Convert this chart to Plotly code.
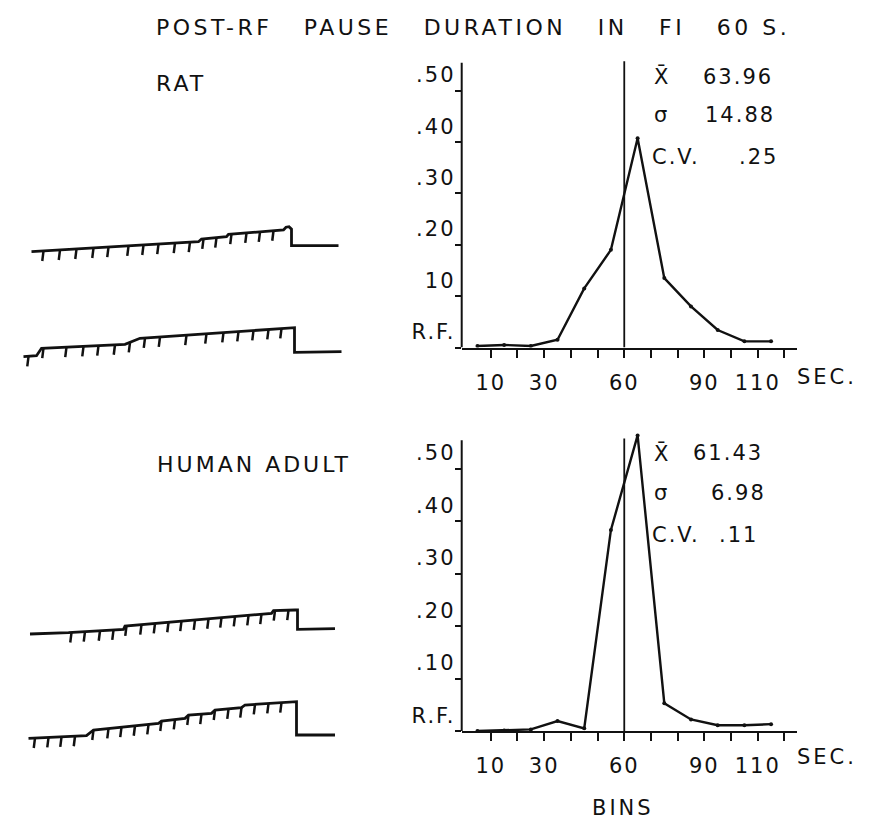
import numpy as np
import plotly.graph_objects as go

W, H = 875, 822
FONT = "DejaVu Sans"
INK = "#111111"

# ---------------- data: relative-frequency histograms ----------------
bins = [5, 15, 25, 35, 45, 55, 65, 75, 85, 95, 105, 115]
rat_rf = [0.003, 0.005, 0.003, 0.015, 0.115, 0.19, 0.407, 0.135, 0.08, 0.034, 0.012, 0.012]
human_rf = [0.0, 0.001, 0.003, 0.019, 0.005, 0.383, 0.563, 0.053, 0.022, 0.011, 0.011, 0.013]
fi_value = 60
axis_top = 0.554

x_tick_vals = [10, 20, 30, 40, 50, 60, 70, 80, 90, 100, 110, 120]
x_tick_text = ["10", "", "30", "", "", "60", "", "", "90", "", "110", ""]
y_tick_vals = [0, 0.1, 0.2, 0.3, 0.4, 0.5]
rat_y_text = ["R.F.", "10", ".20", ".30", ".40", ".50"]
human_y_text = ["R.F.", ".10", ".20", ".30", ".40", ".50"]

stat_names = ["X\u0304", "σ", "C.V."]
rat_stats = ["63.96", "14.88", ".25"]
human_stats = ["61.43", "6.98", ".11"]

# ---------------- data: cumulative records (time s, pen height) ----------------
rec1_t = [6.3, 39.7, 40.3, 45.3, 45.7, 56.7, 57.2, 57.8, 58.3, 58.3, 67.7]
rec1_h = [0, 10, 12.7, 15, 17.4, 21.7, 24.5, 25, 22.5, 6, 6]
rec1_pips = [8.7, 12, 15.3, 18.7, 21.7, 25.7, 28.7, 31.7, 35, 38, 40.7, 43.3, 46.3, 49.3, 52, 54.7]

rec2_t = [4.7, 7.3, 8.3, 25, 28, 58.3, 58.9, 58.9, 68.3]
rec2_h = [0, 1, 8.4, 12.4, 18.4, 29, 29, 4.4, 5]
rec2_pips = [5.7, 8.7, 13.3, 16.7, 19.7, 23, 26, 29, 32, 37.3, 41.3, 44.7, 47.7, 50.7, 53.7, 56.3]

rec3_t = [6, 13.7, 24.7, 25, 54.3, 54.7, 59, 59.5, 59.5, 67]
rec3_h = [0, 1.3, 4.7, 8, 20.7, 23.3, 24, 24, 4.7, 5.3]
rec3_pips = [14.3, 17, 20, 22.7, 25.3, 28.3, 31, 33.7, 36.3, 39, 41.7, 44.3, 47, 49.7, 52.3, 55, 57.7]

rec4_t = [5.7, 17.3, 18.7, 31.7, 32.3, 37, 37.7, 42.3, 43, 48.3, 49, 59, 59.3, 59.3, 67]
rec4_h = [0, 2.6, 8.3, 15, 17.3, 20, 23.3, 25, 28.3, 30.6, 33.3, 36.6, 36.6, 3.3, 3.3]
rec4_pips = [7, 9.7, 12.3, 15, 18.7, 21.7, 24.3, 27, 29.7, 32.3, 35, 37.7, 40.3, 43, 45.7, 48.3, 51, 53.7, 56.3]


def ls(s, sp=3):
    return f'<span style="letter-spacing:{sp}px">{s}</span>'


def px_x(px):
    return px / W


def px_y(py):
    return 1 - py / H


fig = go.Figure()

# histograms
for xa, ya, vals in [("x", "y", rat_rf), ("x2", "y2", human_rf)]:
    fig.add_trace(go.Scatter(x=bins, y=vals, xaxis=xa, yaxis=ya, mode="lines+markers",
                             line=dict(color=INK, width=2.4),
                             marker=dict(color=INK, size=4), hoverinfo="skip"))

# cumulative records
records = [(rec1_t, rec1_h, rec1_pips, "y3"), (rec2_t, rec2_h, rec2_pips, "y4"),
           (rec3_t, rec3_h, rec3_pips, "y5"), (rec4_t, rec4_h, rec4_pips, "y6")]
pip_len = 10
for t, h, pips, ya in records:
    fig.add_trace(go.Scatter(x=t, y=h, xaxis="x3", yaxis=ya, mode="lines",
                             line=dict(color=INK, width=2.8), hoverinfo="skip"))
    px_, py_ = [], []
    for p in pips:
        hv = float(np.interp(p, t[:-3], h[:-3]))
        px_ += [p, p - 0.25, None]
        py_ += [hv, hv - pip_len, None]
    fig.add_trace(go.Scatter(x=px_, y=py_, xaxis="x3", yaxis=ya, mode="lines",
                             line=dict(color=INK, width=2.5), hoverinfo="skip"))

xdom = [461.7 / W, 796.7 / W]
xrange_ = [-0.9, 124.6]
top_dom = [px_y(347.5), px_y(39.1)]
bot_dom = [px_y(731), px_y(416)]

common_x = dict(range=xrange_, domain=xdom, showline=True, linewidth=2, linecolor=INK,
                ticks="outside", ticklen=8, tickwidth=2, tickcolor=INK,
                tickvals=x_tick_vals, ticktext=[ls(s, 2) for s in x_tick_text],
                tickfont=dict(family=FONT, size=21, color=INK), ticklabelstandoff=7,
                showgrid=False, zeroline=False, fixedrange=True)
common_y = dict(range=[0, 0.6], showline=False, ticks="outside", ticklen=6, tickwidth=2,
                tickcolor=INK, tickvals=y_tick_vals, ticklabelposition="outside top",
                tickfont=dict(family=FONT, size=21, color=INK), ticklabelstandoff=1,
                showgrid=False, zeroline=False, fixedrange=True)

fig.update_layout(
    xaxis=dict(anchor="y", **common_x),
    yaxis=dict(anchor="x", domain=top_dom, ticktext=[ls(s, 2) for s in rat_y_text], **common_y),
    xaxis2=dict(anchor="y2", **common_x),
    yaxis2=dict(anchor="x2", domain=bot_dom, ticktext=[ls(s, 2) for s in human_y_text], **common_y),
    xaxis3=dict(anchor="y3", domain=[0, 0.4], range=[0, 70], visible=False, fixedrange=True),
)
baselines = [251.7, 356.7, 634, 738.3]
for i, b in enumerate(baselines):
    fig.layout[f"yaxis{i + 3}"] = dict(anchor="x3", domain=[px_y(b + 15), px_y(b - 40)],
                                        range=[-15, 40], visible=False, fixedrange=True)

# y-axis lines and FI reference lines
for xr, yr in [("x", "y"), ("x2", "y2")]:
    fig.add_shape(type="line", xref=f"{xr} domain", yref=yr, x0=0, x1=0, y0=0, y1=axis_top,
                  line=dict(color=INK, width=2))
    fig.add_shape(type="line", xref=xr, yref=yr, x0=fi_value, x1=fi_value, y0=0, y1=axis_top + 0.003,
                  line=dict(color=INK, width=1.8))

ann = []


def text(s, px, py, size=21, xanchor="center", sp=3):
    ann.append(dict(text=ls(s, sp), x=px_x(px), y=px_y(py), xref="paper", yref="paper",
                    xanchor=xanchor, yanchor="middle", showarrow=False,
                    font=dict(family=FONT, size=size, color=INK)))


nb = "\u00a0"
title = f"POST-RF{nb*3}PAUSE{nb*3}DURATION{nb*3}IN{nb*3}FI{nb*3}60 S."
text(title, 472.5, 28, size=22, sp=3.5)
text("RAT", 181, 84, size=22, sp=3)
text("HUMAN ADULT", 254, 464, size=22, sp=3)
text("SEC.", 827, 377, size=21, sp=3)
text("SEC.", 827, 757, size=21, sp=3)
text("BINS", 623, 808, size=21, sp=3)

# statistics
for stats, ys, rights in [(rat_stats, [77, 115, 157], [775, 777, 780]),
                          (human_stats, [453, 493, 535], [765, 768, 760])]:
    for name, val, yy, r in zip(stat_names, stats, ys, rights):
        nx = 652 if name != "C.V." else 650
        text(name, nx, yy, size=21, xanchor="left", sp=2)
        text(val, r, yy, size=21, xanchor="right", sp=2)

fig.update_layout(annotations=ann, width=W, height=H, margin=dict(l=0, r=0, t=0, b=0),
                  paper_bgcolor="white", plot_bgcolor="white", showlegend=False)

fig.write_html("out.html")
